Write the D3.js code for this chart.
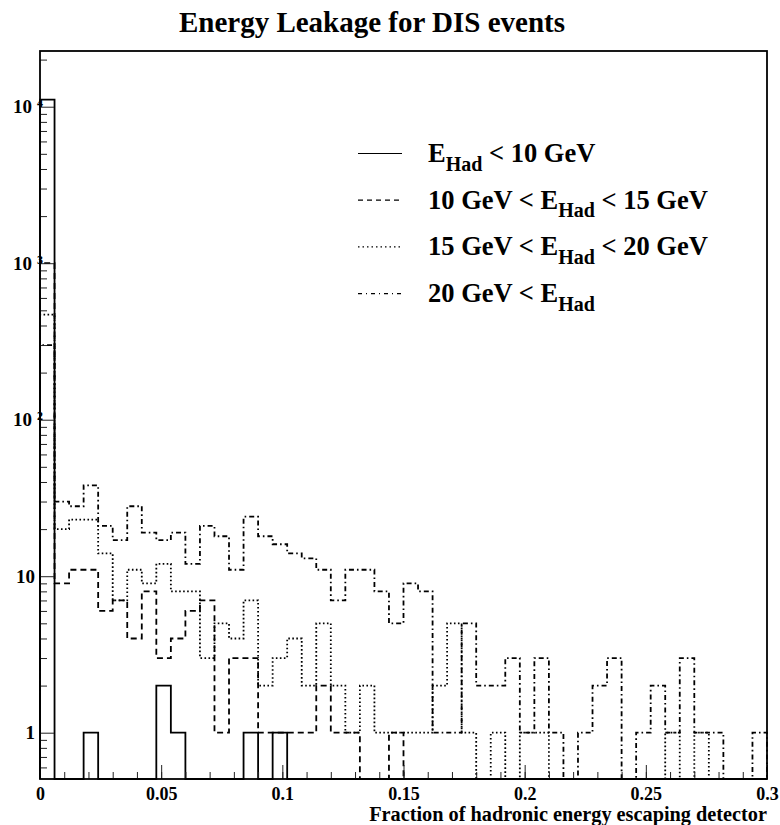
<!DOCTYPE html>
<html>
<head>
<meta charset="utf-8">
<script src="https://cdn.jsdelivr.net/npm/d3@7"></script>
<style>
  body { margin: 0; background: #fff; }
  svg text { font-family: "Liberation Serif", "Times New Roman", serif; font-weight: bold; fill: #000; }
</style>
</head>
<body>
<div id="chart"></div>
<script>
  // binning of the histograms (50 bins from 0 to 0.3)
  var nBins = 50;
  var xMin = 0, xMax = 0.3;

  // counts per bin
  var countsBelow10 = [11100, 0, 0, 1, 0, 0, 0, 0, 2, 1, 0, 0, 0, 0, 1, 0, 1, 0, 0, 0,
    0, 0, 0, 0, 0, 0, 0, 0, 0, 0, 0, 0, 0, 0, 0, 0, 0, 0, 0, 0,
    0, 0, 0, 0, 0, 0, 0, 0, 0, 0];
  var counts10to15 = [1000, 9, 11, 11, 6, 7, 4, 8, 3, 4, 6, 7, 1, 3, 3, 1, 1, 1, 1, 2,
    1, 1, 0, 0, 1, 0, 0, 0, 0, 0, 0, 0, 0, 0, 0, 0, 0, 0, 0, 0,
    0, 0, 0, 0, 0, 0, 0, 0, 0, 0];
  var counts15to20 = [470, 20, 23, 23, 14, 7, 11, 9, 12, 8, 8, 3, 5, 4, 7, 2, 3, 4, 2, 5,
    2, 1, 2, 1, 1, 1, 1, 2, 5, 1, 0, 1, 0, 1, 1, 0, 0, 0, 0, 0,
    0, 0, 0, 1, 0, 1, 0, 0, 0, 0];
  var countsAbove20 = [300, 30, 28, 38, 21, 17, 28, 19, 17, 19, 12, 21, 18, 11, 24, 18, 16, 14, 13, 11,
    7, 11, 11, 8, 5, 9, 8, 1, 1, 5, 2, 2, 3, 1, 3, 1, 0, 1, 2, 3,
    0, 1, 2, 1, 3, 1, 1, 0, 0, 1];

  // axis ticks and labels
  var xTickValues = [0, 0.05, 0.1, 0.15, 0.2, 0.25, 0.3];
  var xTickLabels = ['0', '0.05', '0.1', '0.15', '0.2', '0.25', '0.3'];
  var yTickValues = [1, 10, 100, 1000, 10000];
  var yTickBase = ['1', '10', '10', '10', '10'];
  var yTickExp = ['', '', '2', '3', '4'];

  // legend entries: text before E_Had, text after it
  var legendBefore = ['', '10 GeV < ', '15 GeV < ', '20 GeV < '];
  var legendAfter = [' < 10 GeV', ' < 15 GeV', ' < 20 GeV', ''];
  var legendDash = ['none', '5,4', '1.5,3', '4,4,1,4'];

  var chartTitle = 'Energy Leakage for DIS events';
  var xTitle = 'Fraction of hadronic energy escaping detector';

  // margins of the frame
  var margin = {top: 51, right: 13, bottom: 46, left: 40};
  var width = 780 - margin.left - margin.right;
  var height = 825 - margin.top - margin.bottom;

  var yMin = 0.506, yMax = 22700;

  var svgRoot = d3.select('#chart')
    .append('svg')
    .attr('width', 780)
    .attr('height', 825);

  var svg = svgRoot.append('g')
    .attr('transform', 'translate(' + margin.left + ',' + margin.top + ')');

  var xScale = d3.scaleLinear()
    .domain([xMin, xMax])
    .range([0, width]);

  var yScale = d3.scaleLog()
    .domain([yMin, yMax])
    .range([height, 0]);

  // bin edges
  var edges = d3.range(nBins + 1).map(function(i){ return xMin + i * (xMax - xMin) / nBins; });

  // step outline of one histogram, empty bins go down to the frame bottom
  function histPoints(counts){
    var pts = [[xScale(edges[0]), height]];
    counts.forEach(function(c, i){
      var v = Math.max(c, yMin);
      pts.push([xScale(edges[i]), yScale(v)]);
      pts.push([xScale(edges[i + 1]), yScale(v)]);
    });
    pts.push([xScale(edges[nBins]), height]);
    return pts;
  }

  var line = d3.line();

  var series = [
    {counts: countsBelow10, dash: 'none'},
    {counts: counts10to15, dash: '6,4'},
    {counts: counts15to20, dash: '1.6,2.4'},
    {counts: countsAbove20, dash: '5,3,1.6,3'}
  ];

  svg.selectAll('.hist')
    .data(series)
    .enter().append('path')
    .attr('class', 'hist')
    .attr('d', function(d){ return line(histPoints(d.counts)); })
    .attr('fill', 'none')
    .attr('stroke', '#000')
    .attr('stroke-width', 1.8)
    .attr('stroke-dasharray', function(d){ return d.dash; });

  // x axis, ticks point into the frame
  var xMinor = d3.range(0, 31).map(function(i){ return i / 100; });
  svg.append('g')
    .attr('transform', 'translate(0,' + height + ')')
    .call(d3.axisBottom(xScale).tickValues(xMinor).tickSize(-7).tickFormat(''))
    .call(function(g){ g.select('.domain').remove(); });

  var xAxisG = svg.append('g')
    .attr('transform', 'translate(0,' + height + ')')
    .call(d3.axisBottom(xScale)
      .tickValues(xTickValues)
      .tickSize(-14)
      .tickPadding(8)
      .tickFormat(function(d, i){ return xTickLabels[i]; }));
  xAxisG.select('.domain').remove();
  xAxisG.selectAll('text')
    .attr('font-size', 18)
    .attr('font-family', 'Liberation Serif');

  // y axis, minor ticks at 2..9 per decade
  var yMinor = [];
  d3.range(-1, 5).forEach(function(p){
    d3.range(2, 10).forEach(function(m){
      var v = m * Math.pow(10, p);
      if (v > yMin && v < yMax) yMinor.push(v);
    });
  });
  svg.append('g')
    .call(d3.axisLeft(yScale).tickValues(yMinor).tickSize(-7).tickFormat(''))
    .call(function(g){ g.select('.domain').remove(); });

  svg.append('g')
    .call(d3.axisLeft(yScale).tickValues(yTickValues).tickSize(-14).tickFormat(''))
    .call(function(g){ g.select('.domain').remove(); });

  svg.selectAll('.tick line')
    .attr('stroke', '#222')
    .attr('stroke-width', 1);

  // y labels with exponent
  var yLab = svg.selectAll('.ylabel')
    .data(yTickValues)
    .enter().append('text')
    .attr('class', 'ylabel')
    .attr('y', function(d){ return yScale(d) + 6.5; })
    .attr('font-size', 19);

  yLab.append('tspan')
    .attr('x', function(d, i){ return yTickExp[i] ? -8 : -5; })
    .attr('text-anchor', 'end')
    .text(function(d, i){ return yTickBase[i]; });

  svg.selectAll('.yexp')
    .data(yTickValues.filter(function(d, i){ return yTickExp[i]; }))
    .enter().append('text')
    .attr('class', 'yexp')
    .attr('x', -3)
    .attr('y', function(d){ return yScale(d) + 0.5; })
    .attr('font-size', 12)
    .text(function(d){ return yTickExp[yTickValues.indexOf(d)]; });

  // frame
  svg.append('rect')
    .attr('width', width)
    .attr('height', height)
    .attr('fill', 'none')
    .attr('stroke', '#000')
    .attr('stroke-width', 1.8);

  // title
  svgRoot.append('text')
    .attr('x', 372)
    .attr('y', 32)
    .attr('text-anchor', 'middle')
    .attr('font-size', 29)
    .text(chartTitle);

  // x title
  svgRoot.append('text')
    .attr('x', margin.left + width)
    .attr('y', 821)
    .attr('text-anchor', 'end')
    .attr('font-size', 20.3)
    .text(xTitle);

  // legend
  var legend = svgRoot.selectAll('.legend')
    .data(legendBefore)
    .enter().append('g')
    .attr('class', 'legend')
    .attr('transform', function(d, i){ return 'translate(0,' + (153.5 + i * 46.7) + ')'; });

  legend.append('line')
    .attr('x1', 358)
    .attr('x2', 402)
    .attr('stroke', '#000')
    .attr('stroke-width', 1.2)
    .attr('stroke-dasharray', function(d, i){ return legendDash[i]; });

  var legText = legend.append('text')
    .attr('x', 428)
    .attr('y', 8.5)
    .attr('font-size', 26.5)
    .style('white-space', 'pre');

  legText.append('tspan').text(function(d){ return d + 'E'; });
  legText.append('tspan')
    .attr('dy', 8.5)
    .attr('font-size', 20)
    .text('Had');
  legText.append('tspan')
    .attr('dy', -8.5)
    .text(function(d, i){ return legendAfter[i]; });
</script>
</body>
</html>
